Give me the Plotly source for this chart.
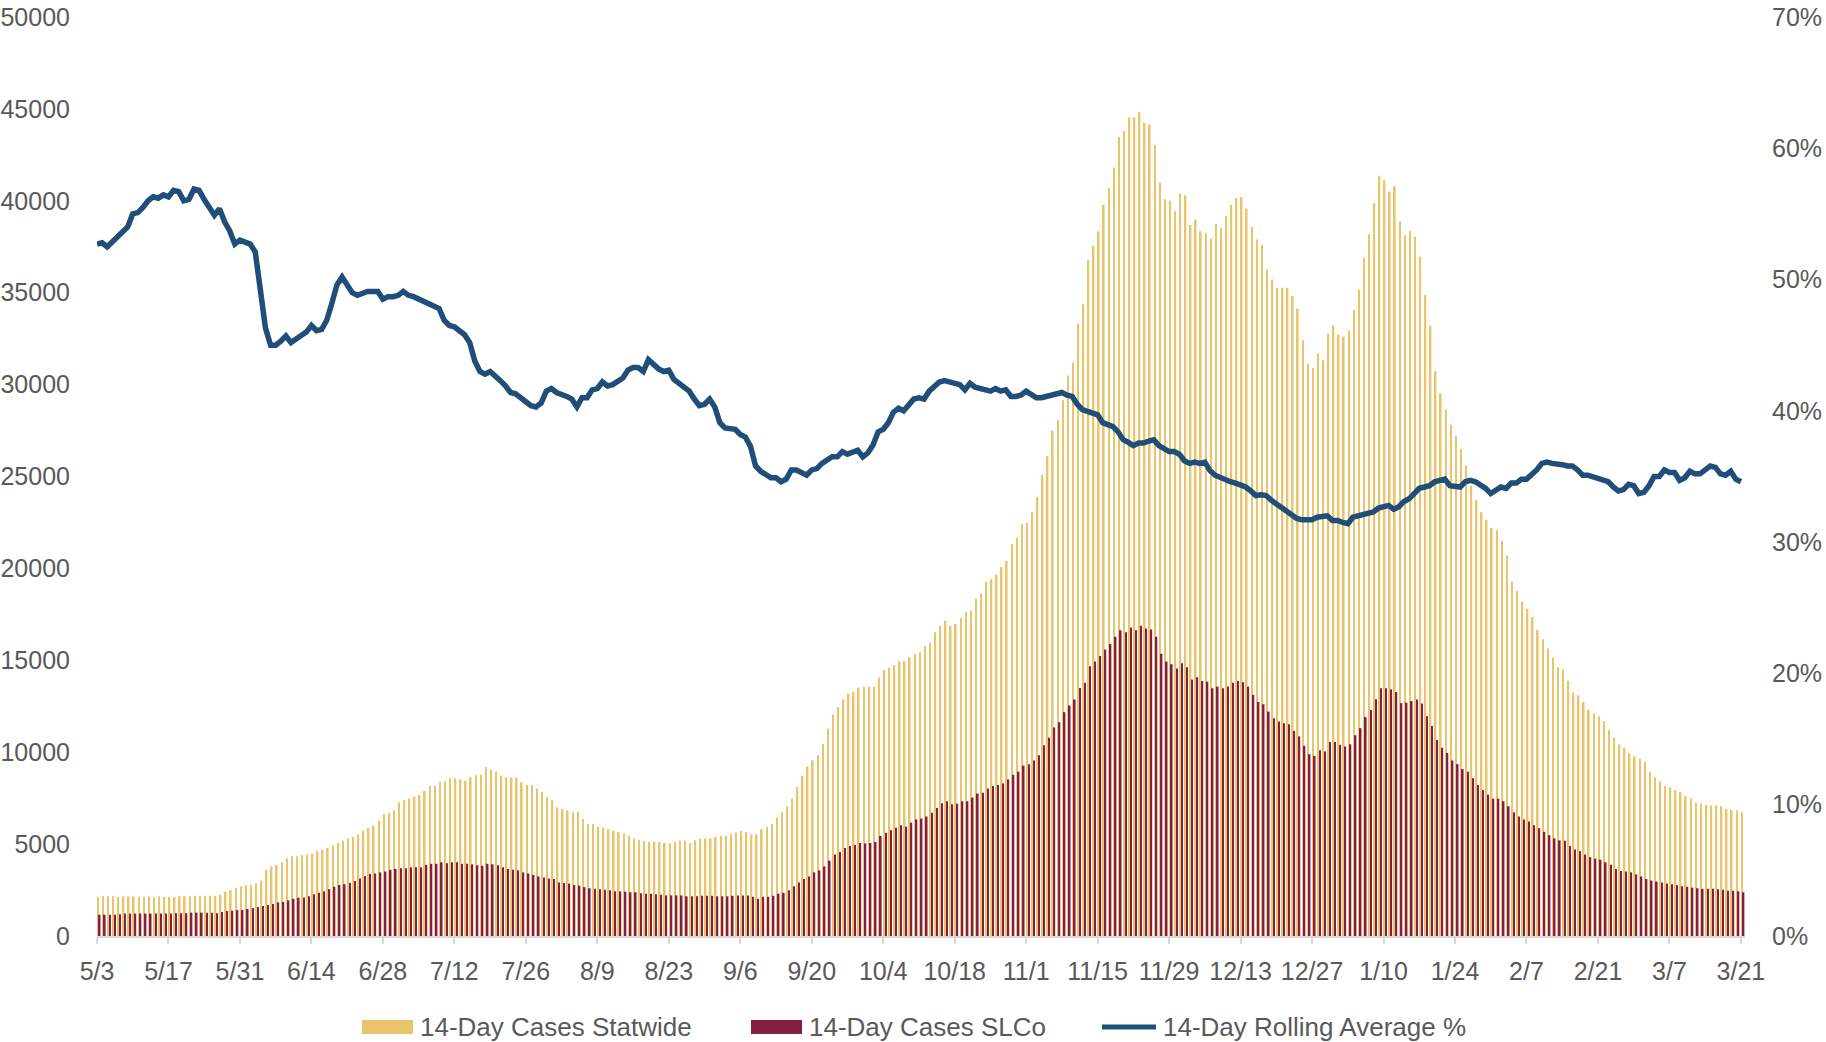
import pandas as pd
import plotly.graph_objects as go

# ---- data -------------------------------------------------------------
dates = pd.date_range("2020-05-03", "2021-03-21", freq="D")
tick_labels = ["5/3", "5/17", "5/31", "6/14", "6/28", "7/12", "7/26", "8/9", "8/23",
               "9/6", "9/20", "10/4", "10/18", "11/1", "11/15", "11/29", "12/13",
               "12/27", "1/10", "1/24", "2/7", "2/21", "3/7", "3/21"]

statewide = [
    2130, 2160, 2160, 2160, 2130, 2160, 2160, 2160, 2130, 2130, 2160, 2130, 2160, 2130,
    2130, 2130, 2160, 2160, 2160, 2190, 2190, 2190, 2190, 2190, 2240, 2410, 2490, 2630,
    2710, 2770, 2790, 2880, 3020, 3600, 3790, 3870, 4010, 4210, 4340, 4340, 4400, 4430,
    4480, 4620, 4700, 4790, 4930, 5060, 5180, 5310, 5400, 5530, 5730, 5870, 6010, 6280,
    6640, 6700, 6840, 7280, 7390, 7470, 7580, 7670, 7890, 8160, 8160, 8390, 8440, 8580,
    8580, 8520, 8440, 8630, 8770, 8770, 9190, 9050, 8940, 8720, 8630, 8630, 8630, 8360,
    8220, 8220, 8030, 7830, 7560, 7390, 7000, 6920, 6840, 6750, 6780, 6370, 6090, 6090,
    5950, 5890, 5810, 5730, 5670, 5590, 5450, 5310, 5230, 5180, 5120, 5120, 5120, 5060,
    5040, 5120, 5180, 5200, 5060, 5200, 5290, 5310, 5310, 5400, 5450, 5450, 5530, 5620,
    5730, 5670, 5530, 5530, 5810, 5950, 6090, 6450, 6730, 7060, 7470, 8110, 8720, 9220,
    9550, 9830, 10460, 11270, 12040, 12460, 12870, 13200, 13290, 13510, 13560, 13560, 13560, 14060,
    14480, 14590, 14730, 14950, 14950, 15170, 15360, 15440, 15780, 15970, 16520, 16880, 17160, 16880,
    16970, 17300, 17630, 17710, 18350, 18630, 19240, 19430, 19650, 20070, 20400, 21310, 21670, 22420,
    22470, 23060, 23890, 25100, 26100, 27490, 28090, 29150, 30500, 31190, 33330, 34370, 36780, 37530,
    38340, 39790, 40700, 41810, 43470, 43800, 44550, 44550, 44820, 44250, 44160, 43020, 41000, 40090,
    40000, 39430, 40390, 40300, 38680, 38980, 38340, 38250, 37950, 38740, 38500, 39190, 39790, 40150,
    40210, 39580, 38590, 37890, 37590, 36260, 35720, 35270, 35270, 35270, 34820, 34130, 32410, 31140,
    30900, 31710, 31320, 32770, 33220, 32710, 32620, 32950, 34060, 35180, 36900, 38190, 39880, 41360,
    41120, 40510, 40790, 38890, 38120, 38370, 38060, 36950, 34880, 33210, 30720, 29530, 28650, 27820,
    27210, 26490, 25600, 24500, 23720, 23060, 22640, 22200, 22090, 21510, 20700, 19290, 18770, 18180,
    17800, 17350, 16660, 16140, 15640, 15140, 14640, 14500, 13890, 13260, 13090, 12730, 12320, 12100,
    11960, 11680, 11210, 10790, 10430, 10240, 9940, 9770, 9660, 9470, 8940, 8640, 8410, 8160,
    8080, 7940, 7830, 7610, 7500, 7250, 7200, 7140, 7110, 7110, 7060, 6920, 6860, 6840,
    6730,
]

slco = [
    1160, 1160, 1160, 1160, 1190, 1220, 1220, 1220, 1220, 1220, 1220, 1220, 1220, 1220,
    1220, 1240, 1240, 1240, 1270, 1270, 1270, 1270, 1270, 1240, 1300, 1360, 1380, 1410,
    1410, 1470, 1520, 1580, 1630, 1690, 1740, 1830, 1850, 1940, 2020, 2080, 2100, 2160,
    2270, 2350, 2430, 2550, 2680, 2770, 2820, 2880, 2990, 3130, 3260, 3380, 3400, 3460,
    3510, 3600, 3650, 3680, 3680, 3740, 3740, 3740, 3870, 3930, 3930, 4010, 3960, 4010,
    4010, 3930, 3930, 3900, 3850, 3820, 3930, 3900, 3850, 3740, 3650, 3600, 3570, 3460,
    3400, 3320, 3240, 3180, 3130, 3100, 2910, 2880, 2850, 2770, 2740, 2660, 2600, 2570,
    2550, 2520, 2490, 2430, 2430, 2410, 2380, 2380, 2320, 2300, 2300, 2270, 2240, 2210,
    2210, 2210, 2210, 2160, 2160, 2160, 2190, 2190, 2190, 2160, 2160, 2160, 2190, 2210,
    2210, 2200, 2140, 2020, 2130, 2130, 2190, 2300, 2350, 2490, 2710, 2910, 3100, 3240,
    3460, 3570, 3790, 4100, 4430, 4570, 4790, 4900, 4950, 5060, 5040, 5060, 5120, 5450,
    5620, 5760, 5890, 6030, 5950, 6170, 6340, 6390, 6500, 6700, 6970, 7220, 7330, 7170,
    7200, 7330, 7330, 7530, 7750, 7800, 8030, 8160, 8220, 8300, 8520, 8770, 8940, 9270,
    9350, 9550, 9830, 10380, 10790, 11350, 11630, 12180, 12540, 12870, 13490, 13780, 14680, 14930,
    15230, 15590, 15890, 16280, 16640, 16520, 16790, 16640, 16880, 16730, 16670, 16280, 15350, 14930,
    14780, 14560, 14840, 14620, 13960, 14080, 13870, 13840, 13480, 13570, 13480, 13570, 13780, 13870,
    13810, 13570, 13120, 12730, 12610, 12210, 11850, 11670, 11580, 11520, 11160, 10860, 10350, 9890,
    9800, 10100, 10040, 10560, 10560, 10400, 10310, 10430, 10920, 11310, 11910, 12300, 12880, 13480,
    13480, 13420, 13270, 12670, 12700, 12780, 12870, 12650, 11960, 11430, 10660, 10240, 9960, 9550,
    9350, 9080, 8940, 8580, 8220, 7940, 7690, 7470, 7470, 7330, 7060, 6730, 6500, 6340,
    6230, 6030, 5870, 5670, 5480, 5310, 5200, 5180, 4900, 4700, 4620, 4430, 4290, 4210,
    4150, 4010, 3870, 3650, 3540, 3510, 3460, 3350, 3240, 3100, 3020, 2960, 2910, 2850,
    2820, 2770, 2710, 2680, 2630, 2600, 2570, 2570, 2570, 2550, 2520, 2460, 2460, 2430,
    2380,
]

rolling_pct = [
    52.7, 52.8, 52.5, 52.9, 53.3, 53.7, 54.0, 55.0, 55.1, 55.5, 56.0, 56.3, 56.2, 56.45,
    56.3, 56.8, 56.7, 56.0, 56.1, 56.9, 56.8, 56.1, 55.5, 54.9, 55.4, 54.4, 53.7, 52.7,
    53.0, 52.8, 52.7, 52.1, 49.4, 46.3, 45.0, 45.0, 45.3, 45.7, 45.2, 45.5, 45.8, 46.0,
    46.5, 46.1, 46.2, 46.9, 48.2, 49.6, 50.2, 49.6, 49.0, 48.8, 49.0, 49.1, 49.1, 49.1,
    48.5, 48.7, 48.7, 48.8, 49.1, 48.8, 48.7, 48.5, 48.4, 48.2, 48.0, 47.8, 46.9, 46.5,
    46.4, 46.1, 45.8, 45.2, 43.8, 43.0, 42.8, 43.0, 42.7, 42.3, 41.9, 41.4, 41.3, 41.0,
    40.7, 40.4, 40.3, 40.6, 41.5, 41.7, 41.4, 41.3, 41.1, 40.9, 40.3, 41.0, 41.0, 41.6,
    41.7, 42.2, 41.9, 42.0, 42.2, 42.5, 43.1, 43.3, 43.3, 43.0, 43.9, 43.5, 43.2, 43.0,
    43.1, 42.4, 42.1, 41.9, 41.5, 40.9, 40.4, 40.5, 40.9, 40.3, 39.1, 38.7, 38.6, 38.6,
    38.2, 38.0, 37.3, 35.8, 35.4, 35.2, 34.9, 34.9, 34.6, 34.8, 35.5, 35.5, 35.3, 35.1,
    35.5, 35.6, 36.0, 36.2, 36.5, 36.5, 36.9, 36.7, 36.8, 37.0, 36.5, 36.8, 37.4, 38.4,
    38.6, 39.1, 39.9, 40.2, 40.0, 40.5, 40.9, 41.0, 40.9, 41.5, 41.8, 42.2, 42.3, 42.2,
    42.0, 42.0, 41.6, 42.1, 41.8, 41.7, 41.5, 41.5, 41.7, 41.5, 41.6, 41.1, 41.1, 41.2,
    41.5, 41.2, 41.0, 41.0, 41.1, 41.2, 41.3, 41.4, 41.2, 41.1, 40.5, 40.1, 39.96, 39.8,
    39.7, 39.1, 39.0, 38.8, 38.4, 37.8, 37.6, 37.35, 37.55, 37.55, 37.7, 37.8, 37.35, 37.1,
    36.9, 36.9, 36.7, 36.2, 36.0, 36.1, 36.0, 36.1, 35.45, 35.1, 34.9, 34.7, 34.6, 34.5,
    34.4, 34.2, 33.9, 33.55, 33.6, 33.55, 33.2, 32.9, 32.6, 32.4, 32.0, 31.8, 31.7, 31.7,
    31.7, 31.9, 31.95, 32.0, 31.65, 31.65, 31.5, 31.4, 31.9, 32.0, 32.2, 32.2, 32.3, 32.6,
    32.7, 32.8, 32.5, 32.7, 33.1, 33.3, 33.7, 34.1, 34.2, 34.3, 34.6, 34.7, 34.8, 34.3,
    34.3, 34.2, 34.6, 34.7, 34.6, 34.4, 34.1, 33.7, 33.9, 34.2, 34.1, 34.5, 34.5, 34.8,
    34.8, 35.1, 35.5, 36.0, 36.1, 36.0, 36.0, 35.9, 35.8, 35.8, 35.5, 35.1, 35.1, 35.0,
    34.8, 34.8, 34.6, 34.2, 33.9, 34.0, 34.4, 34.3, 33.7, 33.8, 34.3, 35.0, 35.0, 35.5,
    35.3, 35.3, 34.7, 34.9, 35.4, 35.2, 35.2, 35.5, 35.8, 35.7, 35.2, 35.1, 35.4, 34.8,
    34.6,
]

series_names = ["14-Day Cases Statwide", "14-Day Cases SLCo", "14-Day Rolling Average %"]

# ---- styling ----------------------------------------------------------
YELLOW = "#E9C46A"
MAROON = "#861E41"
BLUE = "#1F4E79"
TEXT = "#595959"
FONT = "Liberation Sans, Arial, sans-serif"

x = list(range(len(dates)))
tickvals = x[::14]

fig = go.Figure()
fig.add_trace(go.Bar(x=x, y=statewide, name=series_names[0], marker_color=YELLOW,
                     marker_line_width=0, width=0.32, offset=0.04))
fig.add_trace(go.Bar(x=x, y=slco, name=series_names[1], marker_color=MAROON,
                     marker_line_width=0, width=0.32, offset=0.36))
fig.add_trace(go.Scatter(x=x, y=rolling_pct, name=series_names[2], yaxis="y2",
                         mode="lines", line=dict(color=BLUE, width=5.5)))

W, H = 1826, 1042
ML, MR, MT, MB = 97, 81, 17, 106
PW, PH = W - ML - MR, H - MT - MB

fig.update_layout(
    width=W, height=H,
    margin=dict(l=ML, r=MR, t=MT, b=MB, autoexpand=False),
    paper_bgcolor="white", plot_bgcolor="white",
    showlegend=False,
    barmode="overlay",
    font=dict(family=FONT, size=25, color=TEXT),
    xaxis=dict(range=[0, 322.8], tickvals=tickvals, ticktext=tick_labels,
               showgrid=False, zeroline=False, showline=True, linecolor="#D9D9D9",
               linewidth=1.5, ticks="outside", ticklen=6, tickcolor="#D9D9D9",
               tickwidth=1.5, tickfont=dict(size=25, color=TEXT), tickangle=0,
               ticklabelstandoff=6, automargin=False),
    yaxis=dict(range=[0, 50000], dtick=5000, tickformat="d", showgrid=False,
               zeroline=False, showline=False, ticks="", ticklabelstandoff=26,
               tickfont=dict(size=25, color=TEXT), automargin=False),
    yaxis2=dict(range=[0, 70], dtick=10, ticksuffix="%", overlaying="y", side="right",
                showgrid=False, zeroline=False, showline=False, ticks="",
                ticklabelstandoff=26, tickfont=dict(size=25, color=TEXT),
                automargin=False),
)

# ---- custom legend (wide swatches like the original) -----------------
def px_x(p):
    return (p - ML) / PW

def px_y(p):
    return (H - MB - p) / PH

ly = 1027
swatches = [(362, 413, YELLOW, "rect"), (751, 802, MAROON, "rect"), (1102, 1156, BLUE, "line")]
for (x0, x1, col, kind), name in zip(swatches, series_names):
    if kind == "rect":
        fig.add_shape(type="rect", xref="paper", yref="paper",
                      x0=px_x(x0), x1=px_x(x1), y0=px_y(ly + 7), y1=px_y(ly - 7),
                      fillcolor=col, line_width=0)
    else:
        fig.add_shape(type="line", xref="paper", yref="paper",
                      x0=px_x(x0), x1=px_x(x1), y0=px_y(ly), y1=px_y(ly),
                      line=dict(color=col, width=5))
    fig.add_annotation(text=name, xref="paper", yref="paper", x=px_x(x1 + 5), y=px_y(ly),
                       xanchor="left", yanchor="middle", showarrow=False,
                       font=dict(size=26, color=TEXT, family=FONT))

fig.write_html(
    "out.html",
    config={"displayModeBar": False},
    post_script="document.body.style.margin='0';document.body.style.overflow='hidden';",
)
